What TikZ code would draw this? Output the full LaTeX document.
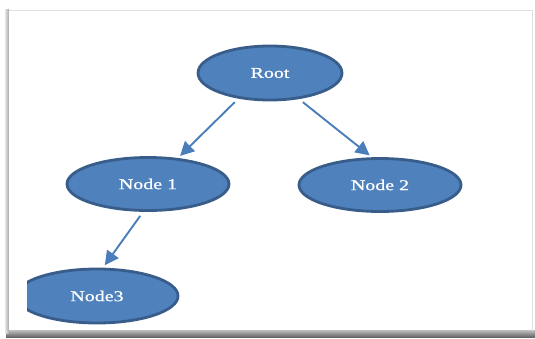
\documentclass[tikz,border=0pt]{standalone}
\usepackage{fontspec}
\setmainfont{Liberation Serif}
\newfontfamily\nodefont[FakeBold=0.8]{Liberation Serif}
\usetikzlibrary{shapes.geometric,arrows.meta}
\definecolor{nodefill}{HTML}{4F81BD}
\definecolor{nodeedge}{HTML}{385D8A}
\definecolor{arrowblue}{HTML}{4A7EBB}
\tikzset{
  treenode/.style={ellipse, fill=nodefill, draw=nodeedge, line width=2.8pt,
    minimum width=162pt, minimum height=53pt, inner sep=0pt,
    text=white, font=\nodefont\fontsize{15}{17}\selectfont},
  link/.style={draw=arrowblue, line width=1.9pt,
    -{Triangle[length=14pt,width=14pt]}, shorten <=5pt, shorten >=3pt}
}
\newcommand{\stretchtxt}[1]{\scalebox{1.33}[1]{#1}}
\begin{document}
\begin{tikzpicture}[x=1pt,y=-1pt]
\useasboundingbox (0,0) rectangle (535,338);
\fill[white] (0,0) rectangle (535,338);
% frame and shadow
\shade[top color=black!25, bottom color=black!60] (6,330) rectangle (535,337);
\shade[left color=black!10, right color=black!35] (5,9) rectangle (9,333);
\draw[black!12, line width=1pt] (9,10) -- (532,10) -- (532,331);
\fill[white] (9,11) rectangle (531,330);
% nodes
\node[treenode, minimum width=144pt, minimum height=54pt] (root) at (270,73) {\stretchtxt{Root}};
\node[treenode] (n1) at (148,184) {\stretchtxt{Node 1}};
\node[treenode] (n2) at (380,185) {\stretchtxt{Node 2}};
\begin{scope}
  \clip (27,250) rectangle (300,330);
  \node[treenode, minimum height=54pt] (n3) at (97,296) {\stretchtxt{Node3}};
\end{scope}
% connectors
\draw[link] (root.219) -- (n1.41);
\draw[link] (root.318) -- (n2.106);
\draw[link] (n1.260) -- (n3.78);
\end{tikzpicture}
\end{document}
